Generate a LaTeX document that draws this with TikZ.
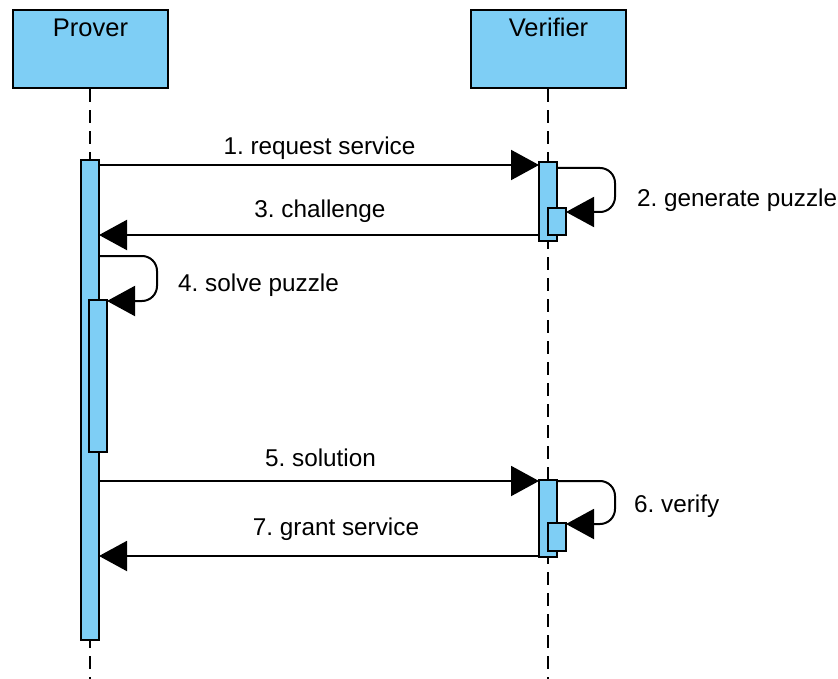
\documentclass[tikz,border=0pt]{standalone}
\usepackage{fontspec}
\setmainfont{Liberation Sans}
\usetikzlibrary{arrows.meta}
\definecolor{lifeblue}{RGB}{126,206,245}
\frenchspacing
\begin{document}
\begin{tikzpicture}[x=1pt,y=-1pt,
  head/.style={draw=black, line width=2.2pt, fill=lifeblue, minimum width=155pt, minimum height=78pt, inner sep=0pt},
  actbar/.style={draw=black, line width=1.8pt, fill=lifeblue, minimum width=18pt, inner sep=0pt, outer sep=0pt},
  lifeline/.style={line width=2pt, dash pattern=on 13pt off 8pt},
  msg/.style={line width=2pt, rounded corners=15pt, -{Triangle[length=28pt,width=30pt]}},
  ttl/.style={font=\fontsize{25.5}{30}\selectfont, inner sep=0pt},
  lbl/.style={font=\fontsize{24.3}{30}\selectfont, inner sep=0pt}]
\useasboundingbox (0,0) rectangle (838,679);
% heads
\node[head] (prover) at (90.5,49) {};
\node[head] (verifier) at (548.5,49) {};
\node[ttl, anchor=base] (provert) at (90.5,37) {Prover};
\node[ttl, anchor=base] (verifiert) at (548.5,37) {Verifier};
% lifelines
\coordinate (pend) at (90,679);
\coordinate (vend) at (548,679);
\draw[lifeline] (prover.south -| pend) -- (pend);
\draw[lifeline] (verifier.south -| vend) -- (vend);
% activation bars
\node[actbar, minimum height=480pt] (pbar) at (90,400) {};
\node[actbar, minimum height=152pt] (pn) at (98,376) {};
\node[actbar, minimum height=79pt] (vb1) at (548,201.5) {};
\node[actbar, minimum height=27pt] (vn1) at (557,221.5) {};
\node[actbar, minimum height=77pt] (vb2) at (548,518.5) {};
\node[actbar, minimum height=28pt] (vn2) at (557,537) {};
% messages
\draw[msg] ([xshift=-1pt]pbar.east |- 0,165) -- (vb1.west |- 0,165);
\draw[msg] ([xshift=-1pt]vb1.east |- 0,168) -- (615,168) -- (615,212) -- (vn1.east |- 0,212);
\draw[msg] (vb1.west |- 0,235) -- (pbar.east |- 0,235);
\draw[msg] ([xshift=-1pt]pbar.east |- 0,256) -- (157,256) -- (157,301) -- (pn.east |- 0,301);
\draw[msg] ([xshift=-1pt]pbar.east |- 0,481) -- (vb2.west |- 0,481);
\draw[msg] ([xshift=-1pt]vb2.east |- 0,481) -- (615,481) -- (615,524) -- (vn2.east |- 0,524);
\draw[msg] (vb2.west |- 0,556) -- (pbar.east |- 0,556);
% labels
\node[lbl, anchor=base] (l1) at (319.5,155) {1. request service};
\node[lbl, anchor=base west] (l2) at (637,207) {2. generate puzzle};
\node[lbl, anchor=base] (l3) at (320,218) {3. challenge};
\node[lbl, anchor=base west] (l4) at (178,291) {4. solve puzzle};
\node[lbl, anchor=base] (l5) at (320.5,466) {5. solution};
\node[lbl, anchor=base west] (l6) at (634,512) {6. verify};
\node[lbl, anchor=base] (l7) at (336,535) {7. grant service};
\end{tikzpicture}
\end{document}
